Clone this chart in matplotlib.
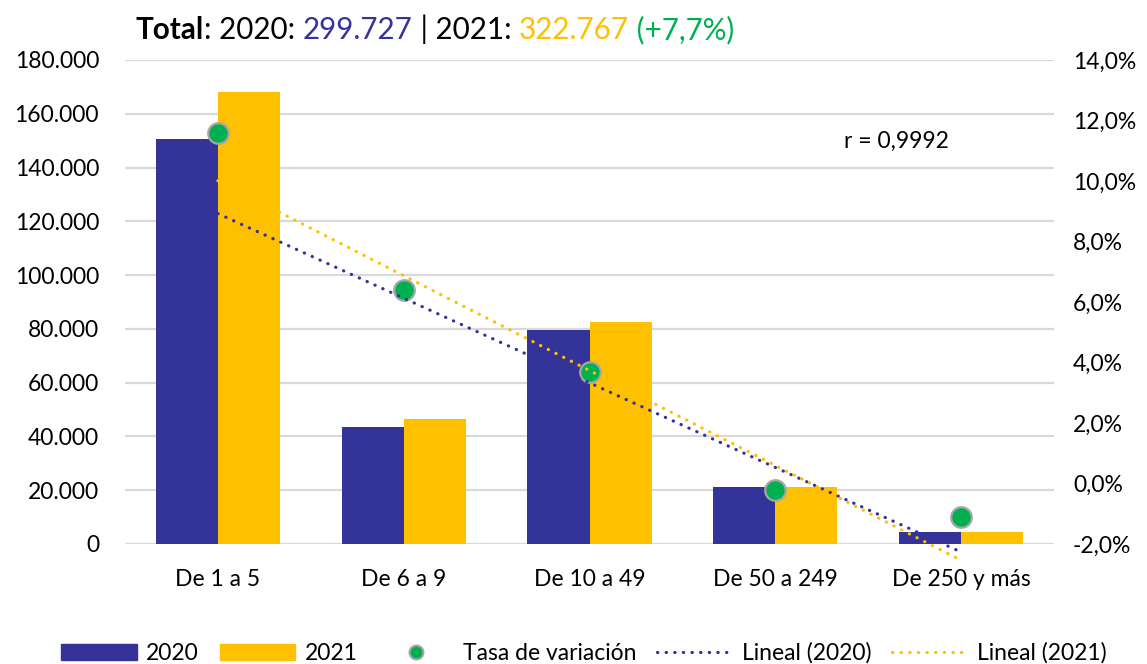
import numpy as np
import matplotlib.pyplot as plt
from matplotlib.lines import Line2D
from matplotlib.patches import Patch
from matplotlib.ticker import FuncFormatter, MultipleLocator

plt.rcParams['font.family'] = ['Lato', 'DejaVu Sans']

categorias = ["De 1 a 5", "De 6 a 9", "De 10 a 49", "De 50 a 249", "De 250 y más"]
valores_2020 = [150700, 43600, 79600, 21300, 4500]
valores_2021 = [168000, 46600, 82500, 21200, 4300]
tasa_variacion = [11.6, 6.4, 3.7, -0.2, -1.1]

azul = "#343399"
amarillo = "#FFC000"
verde = "#00B050"
gris = "#D9D9D9"
fs = 16.5

fig = plt.figure(figsize=(11.47, 6.64), dpi=100)
ax = fig.add_axes([125 / 1147, 1 - 544 / 664, 929 / 1147, 484 / 664])
ax2 = ax.twinx()

x = np.arange(len(categorias))
w = 0.334
ax.bar(x - w / 2, valores_2020, w, color=azul, zorder=2)
ax.bar(x + w / 2, valores_2021, w, color=amarillo, zorder=2)

# dots go on the right axis (percent)
ax2.plot(x, tasa_variacion, linestyle='none', marker='o', markersize=14.8,
         markerfacecolor=verde, markeredgecolor='#A6A6A6', markeredgewidth=1.6, zorder=3)

# linear trendlines of the bars, drawn over the dots
dots = (0, (0.1, 2.6))
for vals, col in [(valores_2020, azul), (valores_2021, amarillo)]:
    m, b = np.polyfit(x, vals, 1)
    ax2.plot(x[[0, -1]], m * x[[0, -1]] + b, transform=ax.transData, color=col,
             lw=2.3, linestyle=dots, dash_capstyle='round', zorder=4, clip_on=False)

ax.set_xlim(-0.5, len(categorias) - 0.5)
ax2.set_xlim(-0.5, len(categorias) - 0.5)
ax.set_ylim(0, 180000)
ax2.set_ylim(-2, 14)
ax.yaxis.set_major_locator(MultipleLocator(20000))
ax2.yaxis.set_major_locator(MultipleLocator(2))
ax.yaxis.set_major_formatter(FuncFormatter(lambda v, p: f"{v:,.0f}".replace(",", ".")))
ax2.yaxis.set_major_formatter(FuncFormatter(lambda v, p: f"{v:.1f}%".replace(".", ",")))

ax.set_xticks(x)
ax.set_xticklabels(categorias)
ax.grid(axis='y', color=gris, lw=1.6, zorder=0)
ax.set_axisbelow(True)
for a in (ax, ax2):
    for s in a.spines.values():
        s.set_visible(False)
ax.tick_params(axis='y', length=0, pad=18.7, labelsize=fs)
ax.tick_params(axis='x', length=0, pad=18, labelsize=fs)
ax2.tick_params(axis='y', length=0, pad=13.7, labelsize=fs)

ax2.text(0.83, 0.832, "r = 0,9992", transform=ax2.transAxes, ha='center', va='center',
         fontsize=fs)

# title in coloured pieces
partes = [("Total", 'black', 'bold'), (": 2020: ", 'black', 'normal'),
          ("299.727", azul, 'normal'), (" | 2021: ", 'black', 'normal'),
          ("322.767", amarillo, 'normal'), (" (+7,7%)", verde, 'normal')]
t = fig.text(136 / 1147, 1 - 39 / 664, partes[0][0], color=partes[0][1],
             fontweight=partes[0][2], fontsize=21.3, va='baseline')
for txt, col, wt in partes[1:]:
    t = ax.annotate(txt, xy=(1, 0), xycoords=t, va='bottom', ha='left',
                    color=col, fontweight=wt, fontsize=21.3, annotation_clip=False)

handles = [Patch(color=azul), Patch(color=amarillo),
           Line2D([], [], linestyle='none', marker='o', markersize=10,
                  markerfacecolor=verde, markeredgecolor='#A6A6A6', markeredgewidth=1.5),
           Line2D([], [], color=azul, lw=2.3, linestyle=dots, dash_capstyle='round'),
           Line2D([], [], color=amarillo, lw=2.3, linestyle=dots, dash_capstyle='round')]
labels = ["2020", "2021", "Tasa de variación", "Lineal (2020)", "Lineal (2021)"]
fig.legend(handles, labels, loc='center', bbox_to_anchor=(0.509, 1 - 653 / 664), ncol=5,
           frameon=False, fontsize=fs, handlelength=3.3, handletextpad=0.4,
           columnspacing=0.9, borderaxespad=0, borderpad=0)

fig.savefig("out.png", dpi=100)
